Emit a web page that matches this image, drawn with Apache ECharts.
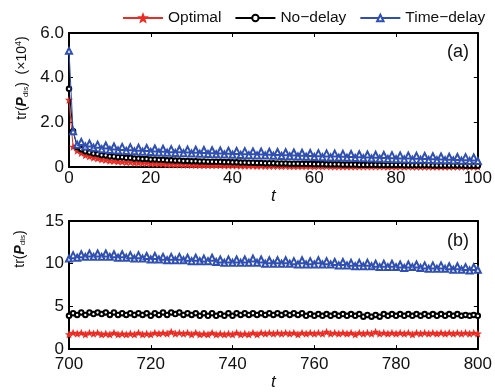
<!DOCTYPE html>
<html>
<head>
<meta charset="utf-8">
<script src="https://cdn.jsdelivr.net/npm/echarts@6/dist/echarts.min.js"></script>
<style>
  html, body { margin: 0; padding: 0; background: #fff; }
  #chart { width: 495px; height: 392px; }
</style>
</head>
<body>
<div id="chart"></div>
<script>
// panel (a): t = 0..100, values in units of 10^4
var startA = 0;
var optimalA = [3.0,0.9,0.72,0.62,0.52,0.47,0.41,0.38,0.33,0.31,0.28,
  0.27,0.24,0.23,0.21,0.21,0.19,0.19,0.17,0.17,0.15,
  0.15,0.14,0.14,0.12,0.12,0.11,0.11,0.1,0.1,0.09,
  0.09,0.08,0.08,0.08,0.07,0.07,0.07,0.06,0.06,0.06,
  0.06,0.05,0.05,0.05,0.05,0.04,0.05,0.04,0.04,0.04,
  0.04,0.03,0.04,0.03,0.03,0.03,0.03,0.03,0.03,0.02,
  0.03,0.02,0.03,0.02,0.02,0.02,0.02,0.02,0.02,0.02,
  0.02,0.02,0.02,0.02,0.02,0.02,0.02,0.01,0.02,0.01,
  0.02,0.01,0.02,0.01,0.01,0.01,0.01,0.01,0.01,0.01,
  0.01,0.01,0.01,0.01,0.01,0.01,0.01,0.01,0.01,0.01];
var noDelayA = [3.5,1.6,0.9,0.8,0.7,0.66,0.6,0.58,0.53,0.52,0.48,
  0.47,0.44,0.44,0.41,0.41,0.38,0.38,0.36,0.36,0.34,
  0.34,0.32,0.32,0.3,0.3,0.29,0.29,0.27,0.27,0.26,
  0.26,0.25,0.25,0.24,0.24,0.23,0.23,0.22,0.22,0.21,
  0.21,0.2,0.2,0.19,0.19,0.18,0.18,0.17,0.17,0.17,
  0.16,0.16,0.16,0.15,0.15,0.15,0.14,0.14,0.14,0.13,
  0.13,0.13,0.12,0.12,0.12,0.12,0.11,0.11,0.11,0.11,
  0.1,0.1,0.1,0.1,0.1,0.09,0.09,0.09,0.09,0.09,
  0.09,0.08,0.08,0.08,0.08,0.08,0.08,0.08,0.07,0.07,
  0.07,0.07,0.07,0.07,0.07,0.07,0.06,0.06,0.06,0.06];
var timeDelayA = [5.2,1.6,1.0,1.12,0.92,1.05,0.86,1.0,0.8,0.96,0.76,
  0.92,0.74,0.9,0.72,0.88,0.7,0.86,0.68,0.85,0.67,
  0.83,0.65,0.82,0.64,0.8,0.63,0.79,0.62,0.78,0.6,
  0.77,0.59,0.76,0.58,0.75,0.57,0.74,0.56,0.73,0.55,
  0.72,0.54,0.71,0.53,0.7,0.52,0.69,0.51,0.68,0.5,
  0.67,0.49,0.66,0.48,0.65,0.47,0.64,0.46,0.63,0.45,
  0.62,0.44,0.61,0.43,0.6,0.42,0.59,0.41,0.58,0.4,
  0.57,0.39,0.56,0.38,0.55,0.37,0.54,0.36,0.53,0.35,
  0.52,0.34,0.51,0.33,0.5,0.32,0.49,0.31,0.48,0.3,
  0.47,0.3,0.46,0.29,0.45,0.28,0.44,0.27,0.43,0.27];

// panel (b): t = 700..800
var startB = 700;
var optimalB = [1.7,1.9,1.8,1.9,1.7,1.9,1.8,1.9,1.7,1.8,1.7,
  1.9,1.7,1.8,1.7,1.8,1.7,1.9,1.7,1.8,1.7,
  1.9,1.8,1.9,1.8,2.0,1.8,1.9,1.8,1.9,1.7,
  1.9,1.7,1.8,1.7,1.9,1.7,1.8,1.7,1.8,1.7,
  1.9,1.7,1.8,1.7,1.9,1.7,1.9,1.8,1.9,1.8,
  1.9,1.8,1.9,1.8,1.9,1.7,1.9,1.8,1.9,1.8,
  1.9,1.8,2.0,1.8,1.9,1.8,1.9,1.8,1.9,1.7,
  1.9,1.8,1.9,1.8,2.0,1.8,1.9,1.8,1.9,1.8,
  1.9,1.8,1.9,1.7,1.9,1.8,1.9,1.8,1.9,1.8,
  1.9,1.8,1.9,1.8,1.9,1.8,1.9,1.8,1.9,1.8];
var noDelayB = [3.9,4.2,4.0,4.3,4.0,4.3,4.1,4.3,4.1,4.3,4.0,
  4.3,4.0,4.2,4.0,4.2,4.0,4.2,4.0,4.2,3.9,
  4.2,4.0,4.3,4.0,4.3,4.1,4.3,4.0,4.2,4.0,
  4.2,3.9,4.2,3.9,4.2,3.9,4.1,3.9,4.2,3.9,
  4.2,4.0,4.2,4.0,4.2,4.0,4.2,4.0,4.2,4.0,
  4.2,4.0,4.2,4.0,4.2,4.0,4.2,3.9,4.1,3.9,
  4.1,3.9,4.1,3.9,4.1,3.9,4.1,3.9,4.1,3.9,
  4.1,3.8,4.0,3.8,4.0,3.8,4.1,3.9,4.1,3.9,
  4.1,3.9,4.1,3.9,4.1,3.9,4.1,3.9,4.1,3.9,
  4.1,3.9,4.1,3.9,4.1,3.9,4.0,3.9,4.0,3.9];
var timeDelayB = [10.6,11.0,10.7,11.1,10.8,11.2,10.8,11.2,10.8,11.2,10.8,
  11.1,10.7,11.1,10.7,11.0,10.6,11.0,10.6,10.9,10.5,
  10.9,10.5,10.8,10.4,10.8,10.4,10.8,10.4,10.7,10.3,
  10.7,10.3,10.6,10.3,10.7,10.2,10.5,10.1,10.5,10.1,
  10.5,10.1,10.5,10.1,10.6,10.1,10.5,10.0,10.4,10.0,
  10.4,10.0,10.4,10.0,10.3,9.9,10.4,9.9,10.3,9.9,
  10.4,9.9,10.3,9.9,10.2,9.8,10.2,9.8,10.1,9.7,
  10.1,9.7,10.1,9.7,10.0,9.6,10.0,9.6,10.0,9.6,
  9.9,9.5,9.9,9.6,9.9,9.5,9.8,9.4,9.8,9.4,
  9.8,9.4,9.7,9.3,9.7,9.3,9.6,9.2,9.6,9.3];

var yTicksA = [0, 6, 2];   // min, max, interval
var yTicksB = [0, 15, 5];
var xTicksA = [0, 100, 20];
var xTicksB = [700, 800, 20];

var seriesNames = ['Optimal', 'No\u2212delay', 'Time\u2212delay'];
var colors = ['#ec2b23', '#000000', '#2f4fb2'];
var starPath = 'path://M0,-5L1.3,-1.7L5,-1.6L2.1,0.7L3.1,4.3L0,2.3L-3.1,4.3L-2.1,0.7L-5,-1.6L-1.3,-1.7Z';
var symbols = [starPath, 'emptyCircle', 'emptyTriangle'];
var symbolSizes = [5, 4.5, 6];

function pairs(t0, vals) {
  return vals.map(function (v, i) { return [t0 + i, v]; });
}

var font = 'Liberation Sans, Arial, sans-serif';
var axisColor = '#000';

function xAxes(gridIndex, ticks, labelMargin) {
  var base = {
    gridIndex: gridIndex, type: 'value', min: ticks[0], max: ticks[1], interval: ticks[2],
    axisLine: { show: true, onZero: false, lineStyle: { color: axisColor, width: 2 } },
    axisTick: { show: true, inside: true, length: 4, lineStyle: { color: axisColor, width: 1 } },
    splitLine: { show: false }
  };
  var bottom = Object.assign({}, base, {
    position: 'bottom',
    axisLabel: { color: '#111', fontSize: 17, fontFamily: font, margin: labelMargin },
    name: 't', nameLocation: 'middle', nameGap: labelMargin + 16,
    nameTextStyle: { fontSize: 17, fontStyle: 'italic', fontFamily: font, color: '#111' }
  });
  var top = Object.assign({}, base, { position: 'top', axisLabel: { show: false } });
  return [bottom, top];
}

function yAxes(gridIndex, ticks, fmt) {
  var base = {
    gridIndex: gridIndex, type: 'value', min: ticks[0], max: ticks[1], interval: ticks[2],
    axisLine: { show: true, onZero: false, lineStyle: { color: axisColor, width: 2 } },
    axisTick: { show: true, inside: true, length: 4, lineStyle: { color: axisColor, width: 1 } },
    splitLine: { show: false }
  };
  var left = Object.assign({}, base, {
    position: 'left',
    axisLabel: { color: '#111', fontSize: 17, fontFamily: font, margin: 5, formatter: fmt }
  });
  var right = Object.assign({}, base, { position: 'right', axisLabel: { show: false } });
  return [left, right];
}

var seriesA = [optimalA, noDelayA, timeDelayA];
var seriesB = [optimalB, noDelayB, timeDelayB];
var series = [];
[seriesA, seriesB].forEach(function (set, panel) {
  set.forEach(function (vals, k) {
    series.push({
      name: seriesNames[k],
      type: 'line',
      xAxisIndex: panel * 2,
      yAxisIndex: panel * 2,
      data: pairs(panel === 0 ? startA : startB, vals),
      symbol: symbols[k],
      symbolSize: symbolSizes[k],
      showAllSymbol: true,
      clip: false,
      lineStyle: { color: colors[k], width: 1 },
      itemStyle: { color: colors[k], borderColor: colors[k], borderWidth: 1.2 },
      z: 2 + k
    });
  });
});

var chart = echarts.init(document.getElementById('chart'));
chart.setOption({
  animation: false,
  backgroundColor: '#fff',
  legend: {
    data: seriesNames,
    left: 122, top: 10, width: 373,
    itemWidth: 40, itemHeight: 8, itemGap: 13, padding: 0,
    textStyle: { fontSize: 15.5, fontFamily: font, color: '#111' }
  },
  grid: [
    { left: 69, top: 33, width: 411, height: 134 },
    { left: 69, top: 221, width: 411, height: 134 }
  ],
  xAxis: xAxes(0, xTicksA, 3).concat(xAxes(1, xTicksB, 7)),
  yAxis: yAxes(0, yTicksA, function (v) { return v === 0 ? '0' : v.toFixed(1); })
    .concat(yAxes(1, yTicksB, function (v) { return String(v); })),
  graphic: [
    {
      type: 'text', x: 22, y: 78, rotation: Math.PI / 2,
      style: {
        text: 'tr({b|P}{s|dis})  (\u00d710{u|4})',
        fontSize: 14, fontFamily: font, fill: '#111',
        align: 'center', verticalAlign: 'middle',
        rich: {
          b: { fontSize: 14, fontWeight: 'bold', fontStyle: 'italic', fontFamily: font, fill: '#111' },
          s: { fontSize: 8, fontFamily: font, fill: '#111', verticalAlign: 'bottom', padding: [6, 0, 0, 0] },
          u: { fontSize: 9, fontFamily: font, fill: '#111', verticalAlign: 'top', padding: [0, 0, 6, 0] }
        }
      }
    },
    {
      type: 'text', x: 20, y: 249, rotation: Math.PI / 2,
      style: {
        text: 'tr({b|P}{s|dis})',
        fontSize: 14, fontFamily: font, fill: '#111',
        align: 'center', verticalAlign: 'middle',
        rich: {
          b: { fontSize: 14, fontWeight: 'bold', fontStyle: 'italic', fontFamily: font, fill: '#111' },
          s: { fontSize: 8, fontFamily: font, fill: '#111', verticalAlign: 'bottom', padding: [6, 0, 0, 0] }
        }
      }
    },
    {
      type: 'text', x: 458, y: 52,
      style: { text: '(a)', fontSize: 18, fontFamily: font, fill: '#111', align: 'center', verticalAlign: 'middle' }
    },
    {
      type: 'text', x: 458, y: 241,
      style: { text: '(b)', fontSize: 18, fontFamily: font, fill: '#111', align: 'center', verticalAlign: 'middle' }
    }
  ],
  series: series
});
</script>
</body>
</html>
